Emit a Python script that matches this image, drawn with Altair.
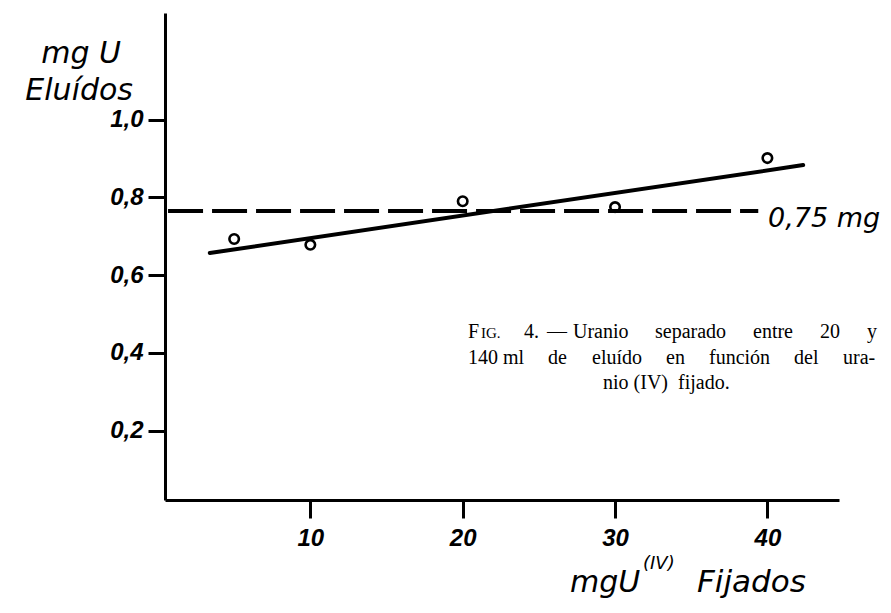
import altair as alt
import pandas as pd

# ---- data ----
x_points = [5, 10, 20, 30, 40]
y_points = [0.693, 0.678, 0.790, 0.775, 0.901]

fit_x = [3.4, 42.35]
fit_y = [0.657, 0.883]

mean_x = [0.66, 39.4]
mean_y = [0.765, 0.765]

x_ticks = [10, 20, 30, 40]
y_ticks = [0.2, 0.4, 0.6, 0.8, 1.0]

mean_label = "0,75 mg"
y_title = ["mg U", "Eluídos"]
x_title = ["mgU", "(IV)", "Fijados"]
caption_line1 = ["4.", "—", "Uranio", "separado", "entre", "20", "y"]
caption_line2 = ["140", "ml", "de", "eluído", "en", "función", "del", "ura-"]
caption_line3 = "nio (IV)\u00a0\u00a0fijado."
caption_f = "F"
caption_ig = "IG."

# ---- layout ----
PL, PT = 165, 13          # plot-area origin on the page
W, H = 674, 487
XD = [0.46, 44.7]
YD = [0.022, 1.274]
HAND = "DejaVu Sans"
SERIF = "Liberation Serif"
CAP = 20
line1_left = [524, 547, 573, 655, 753, 820, 867]
line2_left = [468, 503, 548, 592, 666, 709, 794, 843]

xs = alt.Scale(domain=XD, nice=False, zero=False)
ys = alt.Scale(domain=YD, nice=False, zero=False)

x_axis = alt.Axis(values=x_ticks, title=None, grid=False, domainColor="black",
                  domainWidth=3, tickColor="black", tickWidth=3, tickSize=18,
                  labelFont="Liberation Sans", labelFontStyle="italic",
                  labelFontWeight="bold", labelFontSize=24, labelColor="black",
                  labelPadding=8, labelFlush=False)
y_axis = alt.Axis(values=y_ticks, title=None, grid=False, domainColor="black",
                  domainWidth=3, tickColor="black", tickWidth=3, tickSize=17,
                  labelFont="Liberation Sans", labelFontStyle="italic",
                  labelFontWeight="bold", labelFontSize=24, labelColor="black",
                  labelPadding=5, labelFlush=False,
                  labelExpr="replace(format(datum.value, '.1f'), '.', ',')")

pts = pd.DataFrame({"x": x_points, "y": y_points})
fit = pd.DataFrame({"x": fit_x, "y": fit_y})
mean = pd.DataFrame({"x": mean_x, "y": mean_y})

fit_line = alt.Chart(fit).mark_line(color="black", strokeWidth=4, strokeCap="round").encode(
    x=alt.X("x:Q", scale=xs, axis=x_axis), y=alt.Y("y:Q", scale=ys, axis=y_axis))
mean_line = alt.Chart(mean).mark_line(color="black", strokeWidth=4, strokeDash=[35, 9]).encode(
    x=alt.X("x:Q", scale=xs), y=alt.Y("y:Q", scale=ys))
points = alt.Chart(pts).mark_point(shape="circle", filled=False, color="black",
                                   size=90, strokeWidth=2.6, opacity=1).encode(
    x=alt.X("x:Q", scale=xs), y=alt.Y("y:Q", scale=ys))


def label(text, px, py, size, font=HAND, style="italic", weight="normal", align="left"):
    return alt.Chart(pd.DataFrame({"t": [text]})).mark_text(
        font=font, fontSize=size, fontStyle=style, fontWeight=weight, align=align,
        baseline="alphabetic", color="black").encode(
        text="t:N", x=alt.value(px - PL), y=alt.value(py - PT))


annots = [
    label(mean_label, 768, 227, 27),
    label(y_title[0], 121, 63, 30, align="right"),
    label(y_title[1], 133, 100, 30, align="right"),
    label(x_title[0], 570, 592, 30),
    label(x_title[1], 643, 569, 18),
    label(x_title[2], 697, 592, 31),
    label(caption_f, 468, 338, CAP, font=SERIF, style="normal"),
    label(caption_ig, 481, 338, 15, font=SERIF, style="normal"),
    label(caption_line3, 603, 389, CAP, font=SERIF, style="normal"),
]
for w, px in zip(caption_line1, line1_left):
    annots.append(label(w, px, 338, CAP, font=SERIF, style="normal"))
for w, px in zip(caption_line2, line2_left):
    annots.append(label(w, px, 364, CAP, font=SERIF, style="normal"))

chart = alt.layer(mean_line, fit_line, points, *annots).properties(
    width=W, height=H,
    autosize=alt.AutoSizeParams(type="none"),
    padding={"left": PL - 8, "top": PT - 8, "right": 44, "bottom": 100},
    background="white",
).configure_view(stroke=None)

chart.save("out.html", embed_options={"renderer": "svg", "actions": False})
